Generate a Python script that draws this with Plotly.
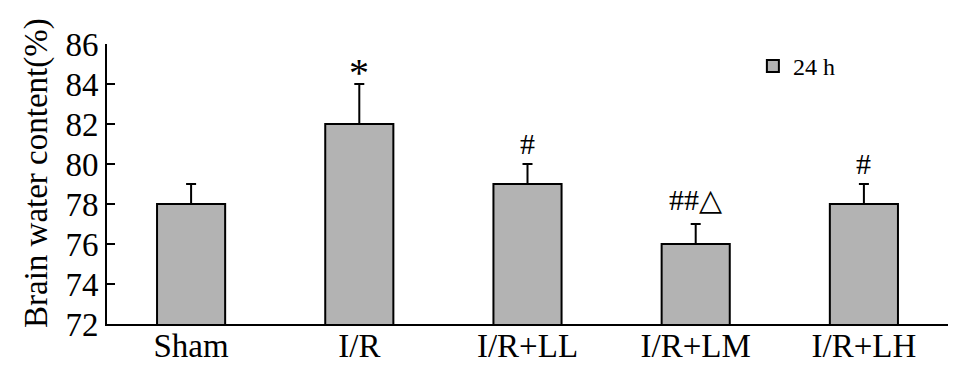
import plotly.graph_objects as go

categories = ["Sham", "I/R", "I/R+LL", "I/R+LM", "I/R+LH"]
values = [78, 82, 79, 76, 78]
errors = [1, 2, 1, 1, 1]
marks = ["", "*", "#", "##△", "#"]
series_name = "24 h"
y_ticks = [72, 74, 76, 78, 80, 82, 84, 86]

FONT = "Liberation Serif"

# the page body has an 8px default margin; margins compensate for it
fig = go.Figure()
fig.add_trace(go.Bar(
    x=categories, y=values, name=series_name,
    marker=dict(color="#b3b3b3", line=dict(color="black", width=2)),
    width=0.405,
    error_y=dict(type="data", array=errors, arrayminus=[0]*len(errors), symmetric=False,
                 color="black", thickness=2, width=5),
    showlegend=True,
))

mark_style = {"*": (40, -13), "#": (30, 2), "##△": (30, 6)}
for c, v, e, m in zip(categories, values, errors, marks):
    if m:
        size, shift = mark_style[m]
        fig.add_annotation(x=c, y=v + e, text=m, showarrow=False, yanchor="bottom",
                           yshift=shift, font=dict(family=FONT, size=size, color="black"))

fig.add_annotation(xref="paper", yref="paper", x=-0.083, y=0.54, text="Brain water content(%)",
                   textangle=-90, showarrow=False, xanchor="center", yanchor="middle",
                   font=dict(family=FONT, size=33, color="black"))

fig.update_layout(
    width=980, height=379,
    margin=dict(l=99, r=40, t=36, b=63, autoexpand=False),
    plot_bgcolor="white", paper_bgcolor="white",
    font=dict(family=FONT, size=26, color="black"),
    legend=dict(x=0.768, y=1.0, xanchor="left", yanchor="top", bgcolor="rgba(0,0,0,0)",
                font=dict(family=FONT, size=24), itemwidth=30),
    xaxis=dict(showline=True, linecolor="black", linewidth=2, ticks="", automargin=False,
               ticklabelstandoff=-9,
               tickfont=dict(family=FONT, size=33), range=[-0.5, 4.5]),
    yaxis=dict(range=[72, 86], tickvals=y_ticks, showline=True, linecolor="black", linewidth=2,
               ticks="inside", ticklen=8, tickwidth=2, tickcolor="black", showgrid=False,
               zeroline=False, automargin=False, tickfont=dict(family=FONT, size=33)),
)

fig.write_html("out.html")
